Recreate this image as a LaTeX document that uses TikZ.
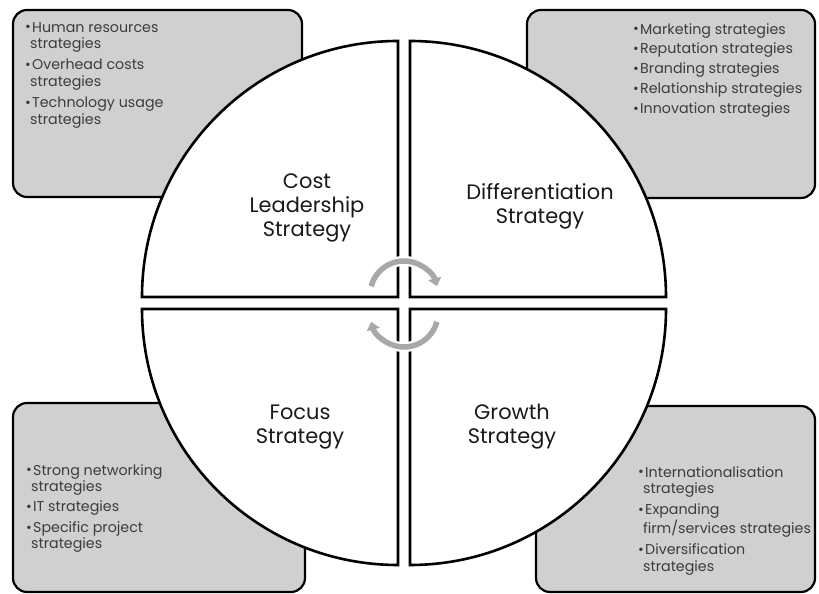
\documentclass[tikz,border=0pt]{standalone}
\usepackage{fontspec}
\setmainfont{Poppins}
\usetikzlibrary{arrows.meta}
\definecolor{boxgray}{HTML}{D0D0D0}
\definecolor{listtext}{HTML}{3C3C3C}
\definecolor{arrowgray}{HTML}{A8A8A8}
\tikzset{x=1bp, y=1bp, % one unit is one pixel of the page
quadrant/.style={ % white quarter discs
draw, line width=2.6bp, fill=white},
listbox/.style={ % grey boxes holding the bullet lists
draw, line width=2.2bp, fill=boxgray, rounded corners=14bp},
heading/.style={ % strategy names inside the quarters
align=center, inner sep=0pt, text=black!90,
font=\fontsize{21}{24}\selectfont},
listing/.style={ % bullet lists
align=left, inner sep=0pt, anchor=north west, text=listtext,
font=\fontsize{14.3}{16.5}\selectfont},
turn/.style={ % circular arrows in the middle
arrowgray, line width=5.5bp, -{Triangle[length=8bp,width=13bp]}},
halo/.style={white, line width=10bp}}
\newcommand{\bul}{\makebox[7bp][l]{\raisebox{0.3bp}{\fontsize{14}{14}\selectfont\textbullet}}}

\begin{document}
\begin{tikzpicture}
    \useasboundingbox (0,0) rectangle (819,594);

    % grey boxes behind the disc
    \draw[listbox] (13,397) rectangle (302,584);
    \draw[listbox] (527,396) rectangle (815,584);
    \draw[listbox] (13,2) rectangle (305,191);
    \draw[listbox] (536,2) rectangle (815,188);

    % the four quarters
    \draw[quadrant] (398,297) -- (142,297) arc[start angle=180, end angle=90, radius=256] -- cycle;
    \draw[quadrant] (410,297) -- (410,553) arc[start angle=90, end angle=0, radius=256] -- cycle;
    \draw[quadrant] (398,285) -- (398,29) arc[start angle=270, end angle=180, radius=256] -- cycle;
    \draw[quadrant] (410,285) -- (666,285) arc[start angle=0, end angle=-90, radius=256] -- cycle;

    % turning arrows
    \coordinate (upper) at (404,299);
    \coordinate (lower) at (404,281);
    \draw[halo] ([shift={(165:34)}]upper) arc[start angle=165, end angle=15, radius=34];
    \draw[turn] ([shift={(165:34)}]upper) arc[start angle=165, end angle=15, radius=34];
    \draw[halo] ([shift={(-15:34)}]lower) arc[start angle=-15, end angle=-165, radius=34];
    \draw[turn] ([shift={(-15:34)}]lower) arc[start angle=-15, end angle=-165, radius=34];

    \node[heading] (cost) at (307,386) {Cost\\Leadership\\Strategy};
    \node[heading] (diff) at (540,388) {Differentiation\\Strategy};
    \node[heading] (focus) at (300,167) {Focus\\Strategy};
    \node[heading] (growth) at (512,167) {Growth\\Strategy};

    \node[listing] (costlist) at (25,572) {\bul Human resources\\\hspace*{5bp}strategies\\[5bp]\bul Overhead costs\\\hspace*{5bp}strategies\\[5bp]\bul Technology usage\\\hspace*{5bp}strategies};
    \node[listing] (difflist) at (633,571) {\bul Marketing strategies\\[3.5bp]\bul Reputation strategies\\[3.5bp]\bul Branding strategies\\[3.5bp]\bul Relationship strategies\\[3.5bp]\bul Innovation strategies};
    \node[listing] (focuslist) at (26,130) {\bul Strong networking\\\hspace*{5bp}strategies\\[4bp]\bul IT strategies\\[4bp]\bul Specific project\\\hspace*{5bp}strategies};
    \node[listing] (growthlist) at (638,128) {\bul Internationalisation\\\hspace*{5bp}strategies\\[5bp]\bul Expanding\\\hspace*{5bp}firm/services strategies\\[5bp]\bul Diversification\\\hspace*{5bp}strategies};

\end{tikzpicture}
\end{document}
